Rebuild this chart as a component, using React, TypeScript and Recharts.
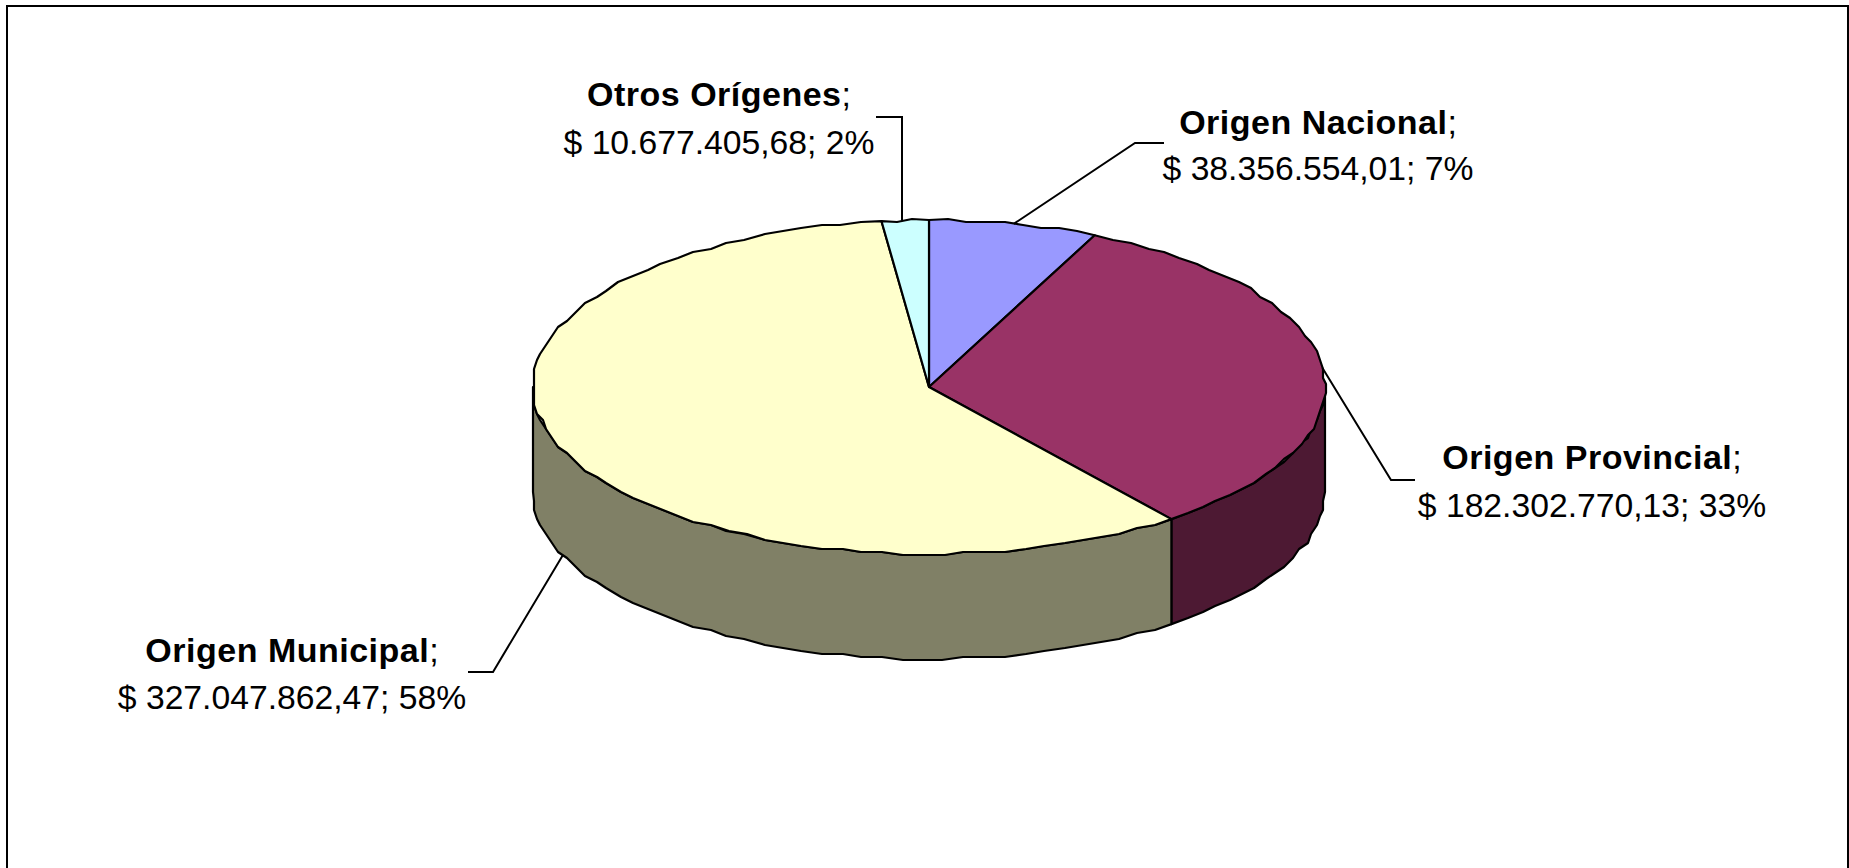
import React from "react";
import { PieChart, Pie } from "recharts";

const names = ["Origen Nacional", "Origen Provincial", "Origen Municipal", "Otros Orígenes"];
const amounts = [38356554.01, 182302770.13, 327047862.47, 10677405.68];
const amountLabels = ["$ 38.356.554,01", "$ 182.302.770,13", "$ 327.047.862,47", "$ 10.677.405,68"];
const percentLabels = ["7%", "33%", "58%", "2%"];
const topColors = ["#9999FF", "#993366", "#FFFFCC", "#CCFFFF"];
const sideColors = ["#4D4D80", "#4D1933", "#808066", "#668080"];

const rows = names.map((name, i) => ({
  name,
  value: amounts[i],
  amountLabel: amountLabels[i],
  percentLabel: percentLabels[i],
  fill: topColors[i],
  side: sideColors[i],
}));

const W = 1849;
const H = 868;
const CX = 929;
const CY = 387;
const RX = 396;
const SQUASH = 167 / 396;
const DEPTH = 105;
const FONT = "'Liberation Sans', Arial, sans-serif";
const BOLD_SIZE = 34;
const PLAIN_SIZE = 33.7;

// leader-line elbow, leader end and text placement, per slice
const labelLayout: any[] = [
  { ex: 1135, ey: 143, lx: 1164, tx: 1318, b1: 134, b2: 180 },
  { ex: 1391, ey: 480, lx: 1415, tx: 1592, b1: 469, b2: 517 },
  { ex: 493, ey: 672, lx: 468, tx: 292, b1: 662, b2: 709 },
  { ex: 902, ey: 117, lx: 876, tx: 719, b1: 106, b2: 154, ax: 902 },
];

const RAD = Math.PI / 180;
const px = (cx: number, r: number, a: number) => cx + r * Math.cos(a * RAD);
const py = (cy: number, r: number, a: number) => cy - r * SQUASH * Math.sin(a * RAD);
const snap = (v: number) => Math.round(v / 3) * 3;

function arcPoints(cx: number, cy: number, r: number, from: number, to: number, dy = 0) {
  const pts: string[] = [];
  const step = 3;
  const n = Math.max(1, Math.ceil(Math.abs(to - from) / step));
  for (let i = 0; i <= n; i++) {
    const a = from + ((to - from) * i) / n;
    const x = px(cx, r, a);
    const y = py(cy, r, a);
    const ends = i === 0 || i === n;
    pts.push(`${(ends ? x : snap(x)).toFixed(1)} ${((ends ? y : snap(y)) + dy).toFixed(1)}`);
  }
  return pts;
}

function TopShape(props: any) {
  const { cx, cy, outerRadius, startAngle, endAngle, fill } = props;
  const d = `M${cx} ${cy} L${arcPoints(cx, cy, outerRadius, startAngle, endAngle).join(" L")} Z`;
  return <path d={d} fill={fill} stroke="#000" strokeWidth={2.2} strokeLinejoin="round" />;
}

function SideShape(props: any) {
  const { cx, cy, outerRadius, startAngle, endAngle, payload } = props;
  const lo = Math.max(Math.min(startAngle, endAngle), -180);
  const hi = Math.min(Math.max(startAngle, endAngle), 0);
  if (hi <= lo) return <g />;
  const upper = arcPoints(cx, cy, outerRadius, hi, lo);
  const lower = arcPoints(cx, cy, outerRadius, lo, hi, DEPTH);
  const d = `M${upper.join(" L")} L${lower.join(" L")} Z`;
  return <path d={d} fill={payload.side} stroke="#000" strokeWidth={2.2} strokeLinejoin="round" />;
}

function renderLabel(props: any) {
  const { cx, cy, outerRadius, midAngle, index, payload } = props;
  const l = labelLayout[index];
  const sx = l.ax ?? px(cx, outerRadius, midAngle);
  const sy = py(cy, outerRadius, midAngle) + (Math.sin(midAngle * RAD) < 0 ? DEPTH : 0);
  return (
    <g key={`lab-${index}`}>
      <polyline
        points={`${sx},${sy} ${l.ex},${l.ey} ${l.lx},${l.ey}`}
        fill="none"
        stroke="#000"
        strokeWidth={2}
      />
      <text x={l.tx} y={l.b1} textAnchor="middle" fontFamily={FONT} fontSize={BOLD_SIZE} fill="#000">
        <tspan fontWeight="bold" letterSpacing={0.5}>{payload.name}</tspan>
        <tspan>;</tspan>
      </text>
      <text x={l.tx} y={l.b2} textAnchor="middle" fontFamily={FONT} fontSize={PLAIN_SIZE} fill="#000">
        {`${payload.amountLabel}; ${payload.percentLabel}`}
      </text>
    </g>
  );
}

export default function App() {
  return (
    <div style={{ position: "absolute", left: 0, top: 0, width: W, height: H, overflow: "hidden", background: "#fff" }}>
      <div
        style={{
          position: "absolute",
          left: 6,
          top: 5,
          width: 1838.5,
          height: 900,
          border: "2.5px solid #000",
        }}
      />
      <div style={{ position: "absolute", left: 0, top: 0 }}>
        <PieChart width={W} height={H} margin={{ top: 0, right: 0, bottom: 0, left: 0 }}>
          <Pie
            data={rows}
            dataKey="value"
            nameKey="name"
            cx={CX}
            cy={CY}
            innerRadius={0}
            outerRadius={RX}
            startAngle={90}
            endAngle={-270}
            shape={SideShape}
            isAnimationActive={false}
            label={false}
            labelLine={false}
          />
          <Pie
            data={rows}
            dataKey="value"
            nameKey="name"
            cx={CX}
            cy={CY}
            innerRadius={0}
            outerRadius={RX}
            startAngle={90}
            endAngle={-270}
            shape={TopShape}
            isAnimationActive={false}
            label={renderLabel}
            labelLine={false}
          />
        </PieChart>
      </div>
    </div>
  );
}
